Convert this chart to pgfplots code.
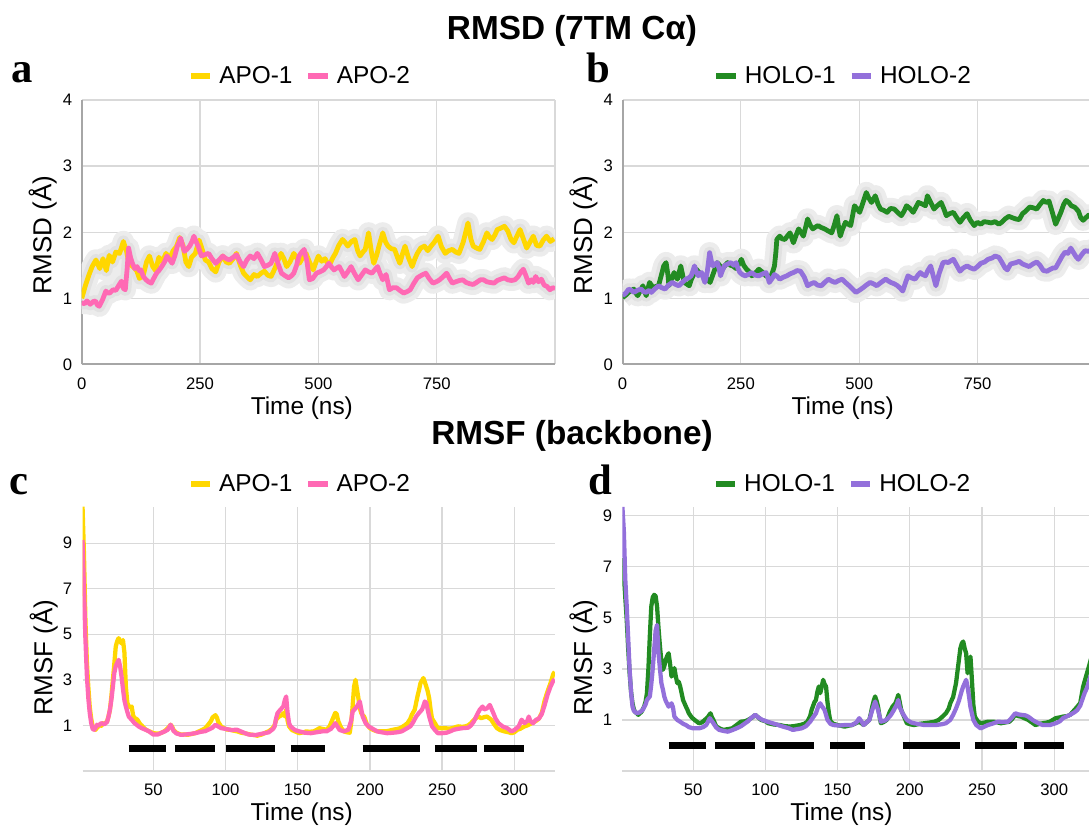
\documentclass[border=0pt]{standalone}
\usepackage{pgfplots}
\pgfplotsset{compat=1.18}
\usepackage{pgfplotstable}
\usepackage{fontspec}
\setmainfont{Liberation Sans}
\newfontfamily\serifbold{Liberation Serif}
\definecolor{apoone}{HTML}{FFD700}
\definecolor{apotwo}{HTML}{FF69B4}
\definecolor{holoone}{HTML}{228B22}
\definecolor{holotwo}{HTML}{9370DB}
\definecolor{gridc}{HTML}{D9D9D9}
\definecolor{axisc}{HTML}{A6A6A6}
\definecolor{bandc}{HTML}{ECECEC}
\definecolor{bandd}{HTML}{E1E1E1}

\pgfplotstableread{
t v
0 1.00
8 1.20
15 1.35
22 1.48
30 1.58
38 1.45
45 1.60
52 1.42
58 1.65
65 1.55
72 1.70
80 1.68
88 1.86
95 1.70
100 1.52
108 1.48
116 1.42
122 1.30
130 1.35
137 1.55
143 1.64
150 1.48
156 1.42
163 1.62
170 1.55
178 1.68
186 1.60
193 1.72
200 1.78
207 1.92
214 1.80
220 1.55
226 1.48
232 1.62
240 1.68
248 1.88
254 1.75
261 1.58
268 1.55
275 1.45
283 1.40
290 1.55
298 1.64
305 1.55
312 1.53
320 1.60
327 1.68
335 1.50
342 1.38
350 1.32
356 1.28
364 1.36
371 1.33
379 1.38
386 1.41
393 1.35
400 1.33
408 1.45
415 1.58
421 1.68
427 1.60
433 1.48
440 1.55
448 1.68
455 1.60
460 1.53
467 1.62
474 1.68
481 1.55
489 1.43
495 1.55
500 1.64
507 1.56
514 1.60
520 1.52
525 1.53
531 1.62
536 1.68
543 1.80
551 1.89
557 1.84
562 1.79
570 1.86
577 1.89
583 1.72
588 1.64
594 1.70
599 1.74
606 1.99
612 1.70
617 1.53
623 1.65
628 1.79
636 1.99
642 1.85
647 1.79
654 1.75
661 1.74
667 1.62
672 1.53
678 1.68
683 1.79
690 1.62
698 1.48
704 1.60
709 1.68
716 1.76
724 1.79
731 1.72
738 1.79
745 1.85
753 1.94
760 1.78
768 1.68
775 1.72
783 1.74
790 1.70
797 1.68
806 1.85
816 2.14
822 1.90
827 1.79
834 1.76
841 1.74
849 1.86
856 1.99
862 1.92
867 1.89
873 1.96
878 2.04
885 2.06
893 2.09
900 2.02
907 1.89
913 1.84
920 1.95
926 2.04
933 1.90
940 1.76
947 1.85
954 1.94
961 1.80
968 1.79
975 1.88
982 1.94
990 1.86
998 1.90
}\apoA

\pgfplotstableread{
t v
0 0.93
6 0.92
11 0.96
18 0.91
24 0.95
29 0.96
33 0.90
37 0.88
44 0.98
51 1.11
55 1.08
59 1.08
66 1.13
72 1.12
77 1.18
84 1.26
88 1.15
92 1.13
96 1.45
99 1.76
103 1.62
107 1.53
112 1.45
117 1.48
121 1.42
125 1.43
130 1.33
136 1.28
141 1.25
147 1.23
152 1.30
158 1.38
163 1.42
169 1.48
175 1.55
180 1.64
186 1.58
191 1.53
197 1.65
202 1.79
206 1.85
209 1.91
213 1.80
217 1.71
222 1.74
228 1.79
233 1.86
237 1.94
242 1.85
246 1.79
250 1.70
253 1.64
260 1.66
268 1.68
275 1.60
283 1.53
290 1.58
298 1.64
305 1.60
312 1.58
320 1.62
327 1.66
335 1.55
342 1.48
349 1.58
356 1.64
364 1.60
371 1.68
379 1.58
386 1.48
393 1.50
400 1.53
408 1.68
415 1.52
422 1.38
430 1.34
437 1.31
443 1.34
448 1.38
454 1.50
459 1.64
465 1.70
470 1.74
476 1.55
481 1.28
488 1.30
496 1.38
503 1.40
511 1.43
517 1.48
522 1.53
528 1.47
533 1.43
539 1.46
544 1.48
550 1.40
555 1.33
562 1.40
569 1.48
576 1.38
584 1.28
591 1.35
599 1.43
606 1.40
613 1.38
619 1.43
625 1.48
630 1.38
636 1.28
643 1.36
650 1.13
657 1.16
665 1.16
672 1.12
680 1.08
687 1.10
694 1.13
701 1.22
709 1.31
718 1.35
727 1.38
734 1.30
742 1.23
749 1.25
756 1.28
764 1.33
771 1.38
777 1.30
783 1.23
790 1.25
798 1.27
805 1.28
812 1.24
820 1.22
827 1.21
834 1.24
842 1.28
849 1.28
856 1.25
863 1.24
871 1.23
878 1.27
885 1.29
893 1.31
900 1.28
908 1.27
915 1.28
922 1.33
928 1.40
933 1.44
938 1.35
944 1.23
950 1.28
954 1.24
959 1.33
965 1.25
971 1.29
977 1.20
983 1.18
989 1.13
995 1.16
1000 1.15
}\apoB

\pgfplotstableread{
t v
0 1.01
7 1.05
13 1.09
19 1.12
24 1.14
28 1.08
32 1.04
38 1.12
43 1.19
47 1.10
50 1.04
57 1.24
61 1.20
65 1.14
70 1.18
76 1.19
82 1.35
87 1.49
92 1.54
96 1.35
98 1.19
104 1.30
109 1.39
113 1.32
116 1.29
123 1.49
127 1.35
130 1.24
135 1.22
141 1.19
145 1.28
149 1.34
156 1.44
163 1.38
171 1.34
178 1.30
185 1.24
192 1.38
200 1.54
205 1.50
211 1.44
217 1.50
222 1.54
228 1.50
233 1.49
240 1.45
246 1.52
251 1.59
256 1.50
262 1.44
268 1.40
273 1.34
280 1.38
288 1.44
295 1.40
303 1.34
309 1.32
314 1.34
318 1.42
321 1.49
324 1.70
326 1.89
332 1.94
337 1.90
343 1.89
349 1.95
354 1.99
358 1.90
361 1.84
367 1.96
372 2.05
377 2.00
382 1.94
387 2.08
391 2.20
397 2.10
402 2.05
408 2.08
413 2.10
420 2.07
427 2.05
434 2.02
442 1.99
447 2.10
453 2.25
457 2.05
460 1.94
465 2.05
471 2.15
477 2.12
482 2.10
486 2.25
490 2.40
496 2.35
501 2.30
508 2.45
515 2.60
520 2.52
526 2.45
530 2.50
534 2.55
540 2.42
545 2.35
552 2.33
559 2.30
566 2.36
574 2.35
581 2.30
589 2.25
595 2.32
600 2.40
607 2.36
614 2.30
620 2.38
625 2.45
632 2.43
640 2.40
644 2.55
651 2.45
658 2.35
665 2.40
673 2.45
679 2.35
684 2.25
691 2.28
699 2.30
706 2.22
713 2.15
720 2.22
728 2.28
735 2.18
743 2.10
750 2.15
757 2.12
764 2.16
772 2.15
779 2.14
787 2.16
795 2.12
801 2.15
808 2.20
816 2.24
823 2.22
831 2.20
838 2.19
845 2.28
852 2.32
860 2.38
867 2.37
875 2.35
882 2.42
889 2.48
895 2.45
901 2.47
908 2.30
915 2.12
920 2.20
926 2.30
932 2.42
937 2.48
943 2.45
948 2.40
955 2.38
963 2.32
968 2.22
973 2.18
979 2.22
985 2.26
992 2.24
1000 2.20
}\holoA

\pgfplotstableread{
t v
0 1.04
7 1.08
13 1.14
19 1.12
24 1.09
31 1.12
39 1.14
45 1.10
50 1.09
56 1.12
61 1.09
68 1.14
76 1.19
83 1.16
90 1.14
97 1.20
105 1.24
112 1.21
119 1.19
126 1.24
134 1.29
140 1.31
145 1.34
149 1.42
152 1.49
156 1.40
160 1.34
164 1.38
167 1.39
171 1.30
174 1.24
179 1.40
184 1.69
188 1.55
191 1.49
196 1.52
200 1.54
204 1.45
207 1.34
211 1.42
215 1.49
222 1.52
229 1.54
235 1.50
240 1.54
244 1.45
248 1.39
253 1.36
259 1.34
266 1.36
273 1.39
280 1.35
288 1.34
296 1.37
303 1.39
307 1.32
310 1.24
316 1.30
321 1.36
327 1.33
332 1.29
340 1.32
347 1.34
354 1.37
361 1.39
369 1.42
376 1.41
384 1.32
391 1.19
398 1.22
405 1.24
412 1.20
420 1.19
427 1.24
435 1.29
442 1.26
449 1.24
457 1.27
464 1.29
471 1.24
479 1.19
486 1.14
493 1.09
500 1.12
508 1.16
515 1.20
523 1.24
530 1.22
537 1.19
546 1.24
556 1.29
562 1.26
567 1.24
574 1.22
581 1.19
587 1.15
592 1.11
597 1.22
603 1.34
610 1.31
618 1.29
624 1.35
629 1.39
634 1.36
640 1.34
645 1.42
651 1.49
656 1.35
662 1.19
669 1.38
677 1.54
683 1.55
688 1.54
694 1.57
699 1.59
706 1.50
713 1.41
720 1.46
728 1.49
735 1.46
743 1.44
750 1.48
757 1.53
765 1.55
772 1.59
781 1.61
787 1.64
795 1.62
801 1.55
808 1.46
813 1.43
820 1.52
831 1.54
838 1.56
845 1.52
852 1.50
859 1.48
867 1.52
875 1.55
882 1.50
889 1.42
897 1.41
904 1.44
910 1.46
915 1.46
922 1.55
929 1.64
935 1.70
941 1.68
947 1.76
952 1.70
958 1.63
963 1.59
970 1.66
977 1.72
985 1.71
992 1.74
1000 1.72
}\holoB

\pgfplotstableread{
r v
1 10.6
2 8.5
3 5.6
4 3.8
5 2.7
6 1.8
7 1.3
8 0.96
9 0.85
10 0.81
11 0.9
12 0.95
13 1.03
14 0.98
15 1.1
16 1.05
17 1.12
18 1.18
19 1.4
20 1.69
21 2.3
22 3.0
23 3.7
24 4.46
25 4.7
26 4.83
27 4.7
28 4.6
29 4.75
30 4.2
31 2.7
32 2.0
33 1.83
34 1.80
35 1.83
36 1.45
37 1.32
38 1.3
39 1.25
40 1.15
41 1.05
42 1.0
43 0.92
45 0.81
47 0.75
50 0.66
53 0.64
55 0.66
57 0.72
59 0.81
61 0.95
62 1.03
63 0.95
64 0.8
66 0.68
69 0.6
72 0.6
74 0.59
77 0.63
79 0.66
81 0.72
84 0.81
86 0.88
88 1.03
90 1.2
91 1.35
93 1.45
94 1.35
95 1.15
97 0.95
99 0.88
101 0.82
103 0.81
105 0.78
108 0.74
111 0.68
113 0.66
116 0.62
118 0.59
120 0.58
122 0.55
125 0.6
127 0.66
130 0.75
132 0.84
134 1.0
135 1.25
137 1.39
139 1.45
140 1.54
141 1.4
142 1.69
143 1.2
144 0.96
146 0.8
148 0.74
151 0.66
154 0.7
156 0.74
158 0.72
161 0.74
163 0.8
165 0.88
167 0.85
170 0.81
172 0.95
174 1.25
176 1.55
177 1.5
178 1.2
180 0.9
182 0.74
184 0.7
186 0.68
187 1.1
188 1.83
189 2.7
190 3.0
191 2.6
192 2.2
193 1.75
194 1.54
195 1.45
196 1.39
198 1.03
200 0.88
202 0.81
204 0.76
206 0.74
209 0.74
211 0.74
214 0.78
216 0.81
219 0.85
221 0.88
224 1.0
226 1.1
228 1.3
229 1.47
231 1.69
233 2.3
234 2.56
235 2.86
237 3.08
238 2.9
239 2.71
240 2.5
241 2.2
242 1.69
243 1.3
245 1.1
247 0.88
250 0.88
252 0.88
255 0.86
257 0.88
259 0.92
261 0.96
264 0.94
266 0.96
268 1.0
270 1.1
271 1.18
273 1.3
275 1.39
277 1.32
279 1.36
281 1.39
283 1.3
284 1.25
286 1.05
288 0.88
290 0.8
293 0.74
296 0.7
298 0.66
300 0.7
302 0.81
304 0.85
307 0.96
309 1.0
312 1.1
315 1.2
317 1.3
319 1.55
321 2.1
323 2.5
325 2.85
327 3.27
328 3.35
}\rmsfApoA

\pgfplotstableread{
r v
1 9.14
2 7.0
3 4.8
4 3.2
5 2.2
6 1.54
7 1.1
8 0.85
9 0.81
10 0.9
11 1.03
12 0.98
13 1.05
14 1.1
16 1.05
18 1.15
19 1.39
20 1.7
21 2.13
22 2.7
23 3.3
24 3.6
25 3.75
26 3.88
27 3.6
28 3.15
29 2.6
30 2.1
31 1.83
32 1.6
33 1.39
35 1.25
37 1.1
40 0.95
42 0.88
45 0.8
47 0.74
50 0.6
53 0.6
55 0.66
58 0.74
60 0.81
62 1.03
63 0.9
64 0.76
66 0.65
69 0.59
72 0.6
76 0.63
79 0.66
83 0.72
86 0.75
88 0.81
91 0.9
93 1.03
95 0.95
97 0.88
100 0.85
104 0.8
108 0.81
112 0.7
116 0.6
118 0.59
121 0.58
124 0.62
127 0.66
130 0.7
133 0.85
134 0.96
135 1.3
136 1.54
138 1.69
140 1.83
141 2.1
142 2.27
143 1.54
144 1.1
145 0.96
148 0.8
151 0.74
155 0.68
159 0.66
163 0.7
167 0.74
170 0.74
173 0.85
175 1.0
176 1.1
177 1.0
179 0.8
182 0.74
185 0.81
187 1.2
188 1.61
190 1.75
191 1.83
192 1.95
193 2.05
194 1.7
195 1.39
197 1.1
199 0.96
202 0.85
205 0.74
208 0.7
212 0.66
216 0.68
219 0.7
222 0.74
225 0.85
228 0.96
230 1.15
232 1.39
234 1.55
236 1.69
237 1.85
238 2.05
239 2.0
240 1.69
241 1.4
243 0.96
245 0.8
247 0.66
250 0.66
253 0.68
256 0.75
258 0.81
261 0.85
264 0.88
268 0.9
270 1.0
272 1.18
274 1.45
276 1.69
278 1.83
279 1.7
281 1.75
283 1.9
284 1.75
285 1.61
287 1.3
289 1.1
292 0.95
295 0.88
298 0.74
300 0.8
302 0.9
303 0.96
305 1.25
307 1.1
309 1.2
310 1.39
311 1.2
313 1.1
315 1.25
317 1.3
319 1.5
321 1.9
323 2.35
325 2.7
327 2.97
328 3.0
}\rmsfApoB

\pgfplotstableread{
r v
1 7.34
2 6.75
3 5.8
4 4.92
5 3.8
6 2.83
7 2.1
8 1.65
9 1.4
10 1.3
11 1.26
12 1.2
13 1.26
14 1.3
15 1.4
16 1.52
17 1.7
18 2.05
19 3.0
20 4.3
21 5.44
22 5.8
23 5.9
24 5.85
25 5.44
26 4.6
27 3.88
28 3.3
29 2.96
30 3.1
31 3.35
32 3.5
33 3.61
34 3.2
35 2.7
36 2.8
37 3.03
38 2.7
39 2.44
40 2.5
41 2.31
42 2.05
43 1.78
44 1.65
45 1.52
46 1.4
47 1.26
49 1.1
51 1.0
54 0.87
56 0.9
58 1.0
60 1.1
62 1.26
63 1.1
64 1.0
66 0.74
69 0.65
71 0.61
74 0.64
77 0.67
80 0.8
83 0.93
86 0.95
88 1.0
91 1.1
93 1.2
95 1.1
97 1.0
100 0.95
102 0.87
106 0.82
110 0.8
113 0.76
117 0.74
120 0.76
124 0.8
127 0.85
129 0.93
131 1.15
132 1.39
134 1.7
135 1.78
136 2.1
137 2.31
138 2.05
139 2.3
140 2.57
141 2.4
142 2.31
143 1.7
144 1.26
145 0.95
147 0.85
150 0.8
153 0.76
155 0.74
158 0.78
160 0.8
163 0.88
165 0.93
167 0.85
168 0.8
170 0.9
172 1.0
173 1.25
174 1.52
175 1.75
176 1.92
177 1.75
178 1.52
179 1.15
180 0.87
182 0.92
184 1.0
186 1.3
188 1.52
190 1.65
191 1.8
192 1.98
193 1.7
194 1.4
195 1.26
197 1.0
198 0.87
201 0.82
203 0.8
207 0.85
210 0.87
214 0.9
217 0.93
220 1.0
223 1.15
225 1.26
227 1.45
228 1.65
230 1.9
232 2.44
233 2.9
234 3.35
235 3.8
236 4.0
237 4.07
238 3.8
239 3.61
240 2.83
241 3.3
242 3.48
243 2.57
244 1.6
245 1.13
247 0.95
249 0.87
252 0.9
254 0.93
258 0.93
261 0.9
263 0.87
266 0.9
269 0.93
271 1.05
273 1.2
275 1.15
277 1.13
280 1.05
282 1.0
285 0.88
287 0.8
290 0.85
292 0.87
295 0.9
297 0.93
301 1.07
304 1.1
306 1.13
309 1.15
311 1.2
314 1.39
316 1.52
318 1.66
320 2.3
322 2.7
324 3.09
326 3.5
328 3.8
}\rmsfHoloA

\pgfplotstableread{
r v
1 9.34
2 8.4
3 6.5
4 5.44
5 4.2
6 2.96
7 2.1
8 1.52
9 1.35
11 1.26
13 1.3
15 1.39
17 1.6
18 1.78
19 1.85
20 1.92
21 2.4
22 3.0
23 3.75
24 4.5
25 4.72
26 3.61
27 3.0
28 2.44
29 2.2
30 1.92
31 1.75
33 1.52
35 1.65
36 1.5
37 1.13
39 1.0
41 0.93
43 0.85
45 0.8
47 0.72
50 0.67
54 0.67
57 0.72
59 0.8
60 0.9
61.5 1.07
63 0.95
64 0.87
66 0.7
68 0.61
71 0.57
74 0.54
77 0.6
80 0.67
83 0.75
86 0.87
88 0.95
90 1.07
93 1.2
95 1.1
98 1.0
102 0.92
105 0.87
109 0.8
112 0.74
116 0.68
119 0.61
122 0.64
125 0.67
128 0.75
131 0.93
133 1.1
135 1.26
137 1.59
138 1.65
139 1.55
141 1.39
143 1.0
145 0.85
147 0.8
151 0.78
155 0.8
160 0.8
163 0.9
165 1.07
167 0.9
168 0.8
170 0.9
172 1.0
174 1.39
176 1.72
177 1.55
178 1.39
180 0.93
183 0.98
185 1.07
187 1.2
189 1.39
191 1.6
192 1.78
193 1.5
195 1.26
198 1.0
201 0.9
203 0.87
207 0.83
210 0.8
214 0.8
218 0.8
222 0.83
225 0.87
228 1.0
230 1.2
232 1.45
234 1.75
236 2.15
237 2.31
239 2.57
240 2.3
241 1.92
242 1.5
244 1.0
246 0.8
249 0.67
251 0.72
254 0.8
257 0.85
261 0.93
264 0.92
268 0.93
270 1.05
273 1.26
275 1.22
277 1.2
280 1.18
282 1.13
285 1.0
287 0.93
290 0.85
292 0.8
297 0.8
301 0.87
304 0.95
306 1.07
309 1.15
311 1.2
314 1.3
316 1.39
318 1.56
321 2.05
323 2.3
325 2.7
328 3.1
}\rmsfHoloB

\pgfplotsset{
  legimg/.style={legend image code/.code={\draw[line width=4.5pt] (0pt,0pt) -- (14.5pt,0pt);}},
  rmsdaxis/.style={
    scale only axis, width=355pt, height=198.4pt, anchor=south west,
    xmin=0, xmax=1000, ymin=0, ymax=4,
    xtick={0,250,500,750,1000}, xticklabels={0,250,500,750,},
    ytick={0,1,2,3,4},
    grid=major, major grid style={gridc, line width=0.9pt},
    major tick length=0pt,
    axis x line*=bottom, axis y line*=left,
    x axis line style={-, axisc, line width=1.5pt},
    y axis line style={-, axisc, line width=1.5pt},
    /pgf/number format/assume math mode=true,
    ticklabel style={font=\fontsize{12.5}{14}\selectfont},
    xticklabel style={inner sep=0pt, anchor=north, yshift=-9.5pt},
    yticklabel style={inner sep=0pt, anchor=east, xshift=-7pt},
    xlabel={Time (ns)}, ylabel={RMSD (Å)},
    xlabel style={at={(axis description cs:0.465,-0.19)}, anchor=base, font=\fontsize{18.3}{20}\selectfont},
    ylabel style={at={(axis description cs:-0.064,0.49)}, anchor=base, rotate=0, font=\fontsize{19.5}{21}\selectfont},
    legend columns=2, legimg,
    legend style={draw=none, fill=none, font=\fontsize{18.3}{20}\selectfont, inner sep=0pt,
      nodes={inner sep=0pt}, column sep=4.5pt,
      /tikz/every even column/.append style={column sep=9.75pt}},
    clip=true,
  },
  rmsfaxis/.style={
    scale only axis, width=354.2pt, height=198.2pt, anchor=south west,
    xmin=1, xmax=328, ymin=-1,
    xtick={50,100,150,200,250,300},
    ytick={-1,1,3,5,7,9}, yticklabels={,1,3,5,7,9},
    grid=major, major grid style={gridc, line width=1pt},
    major tick length=0pt,
    axis line style={draw=none},
    /pgf/number format/assume math mode=true,
    ticklabel style={font=\fontsize{12.5}{14}\selectfont},
    xticklabel style={inner sep=0pt, anchor=north, yshift=-9.5pt},
    yticklabel style={inner sep=0pt, anchor=east, xshift=-7.5pt},
    xlabel={Time (ns)}, ylabel={RMSF (Å)},
    xlabel style={at={(axis description cs:0.464,-0.188)}, anchor=base, font=\fontsize{18.3}{20}\selectfont},
    ylabel style={at={(axis description cs:-0.064,0.43)}, anchor=base, rotate=0, font=\fontsize{19.5}{21}\selectfont},
    legend columns=2, legimg,
    legend style={draw=none, fill=none, font=\fontsize{18.3}{20}\selectfont, inner sep=0pt,
      nodes={inner sep=0pt}, column sep=4.5pt,
      /tikz/every even column/.append style={column sep=9.75pt}},
    clip=true,
  },
  band/.style={bandc, line width=16pt, line join=round, forget plot},
  bandin/.style={bandd, line width=9pt, line join=round, forget plot},
  ser/.style={line width=3.6pt, line join=round},
  ser2/.style={line width=3.2pt, line join=round},
  tm/.style={black, line width=5.5pt, line cap=butt, forget plot},
}

\begin{document}
\begin{tikzpicture}
\path[use as bounding box] (0pt,0pt) rectangle (816.75pt,618.75pt);
\clip (0pt,0pt) rectangle (816.75pt,618.75pt);

\node[anchor=base, font=\bfseries\fontsize{25}{28}\selectfont] at (429pt,588.75pt) {RMSD (7TM Cα)};
\node[anchor=base, font=\bfseries\fontsize{25}{28}\selectfont] at (429pt,285pt) {RMSF (backbone)};
\node[anchor=base west, inner sep=0pt, font=\serifbold\bfseries\fontsize{32}{34}\selectfont] at (8.5pt,556.5pt) {a};
\node[anchor=base west, inner sep=0pt, font=\serifbold\bfseries\fontsize{32}{34}\selectfont] at (440pt,556.5pt) {b};
\node[anchor=base west, inner sep=0pt, font=\serifbold\bfseries\fontsize{32}{34}\selectfont] at (7pt,248pt) {c};
\node[anchor=base west, inner sep=0pt, font=\serifbold\bfseries\fontsize{32}{34}\selectfont] at (441pt,248pt) {d};

% panel a
\begin{axis}[rmsdaxis, at={(61.3pt,345.4pt)},
  legend style={at={(axis description cs:0.459,1.091)}, anchor=center}]
\addplot[band] table[x=t,y=v] {\apoA};
\addplot[band] table[x=t,y=v] {\apoB};
\addplot[bandin] table[x=t,y=v] {\apoA};
\addplot[bandin] table[x=t,y=v] {\apoB};
\addplot[ser, apoone] table[x=t,y=v] {\apoA};
\addlegendentry{APO-1}
\addplot[ser, apotwo] table[x=t,y=v] {\apoB};
\addlegendentry{APO-2}
\end{axis}

% panel b
\begin{axis}[rmsdaxis, at={(466.9pt,345.4pt)},
  legend style={at={(axis description cs:0.464,1.091)}, anchor=center}]
\addplot[band] table[x=t,y=v] {\holoA};
\addplot[band] table[x=t,y=v] {\holoB};
\addplot[bandin] table[x=t,y=v] {\holoA};
\addplot[bandin] table[x=t,y=v] {\holoB};
\addplot[ser, holoone] table[x=t,y=v] {\holoA};
\addlegendentry{HOLO-1}
\addplot[ser, holotwo] table[x=t,y=v] {\holoB};
\addlegendentry{HOLO-2}
\end{axis}

% panel c
\begin{axis}[rmsfaxis, at={(61.9pt,40.5pt)}, ymax=10.6,
  legend style={at={(axis description cs:0.458,1.087)}, anchor=center}]
\addplot[ser2, apoone] table[x=r,y=v] {\rmsfApoA};
\addlegendentry{APO-1}
\addplot[ser2, apotwo] table[x=r,y=v] {\rmsfApoB};
\addlegendentry{APO-2}
\addplot[tm] coordinates {(33,0) (59,0)};
\addplot[tm] coordinates {(65,0) (93,0)};
\addplot[tm] coordinates {(100,0) (134,0)};
\addplot[tm] coordinates {(145,0) (169,0)};
\addplot[tm] coordinates {(195,0) (235,0)};
\addplot[tm] coordinates {(245,0) (274,0)};
\addplot[tm] coordinates {(279,0) (307,0)};
\end{axis}

% panel d
\begin{axis}[rmsfaxis, at={(466.8pt,40.5pt)}, ymax=9.35,
  legend style={at={(axis description cs:0.464,1.087)}, anchor=center}]
\addplot[ser2, holoone] table[x=r,y=v] {\rmsfHoloA};
\addlegendentry{HOLO-1}
\addplot[ser2, holotwo] table[x=r,y=v] {\rmsfHoloB};
\addlegendentry{HOLO-2}
\addplot[tm] coordinates {(33,0) (59,0)};
\addplot[tm] coordinates {(65,0) (93,0)};
\addplot[tm] coordinates {(100,0) (134,0)};
\addplot[tm] coordinates {(145,0) (169,0)};
\addplot[tm] coordinates {(195,0) (235,0)};
\addplot[tm] coordinates {(245,0) (274,0)};
\addplot[tm] coordinates {(279,0) (307,0)};
\end{axis}
\end{tikzpicture}
\end{document}
